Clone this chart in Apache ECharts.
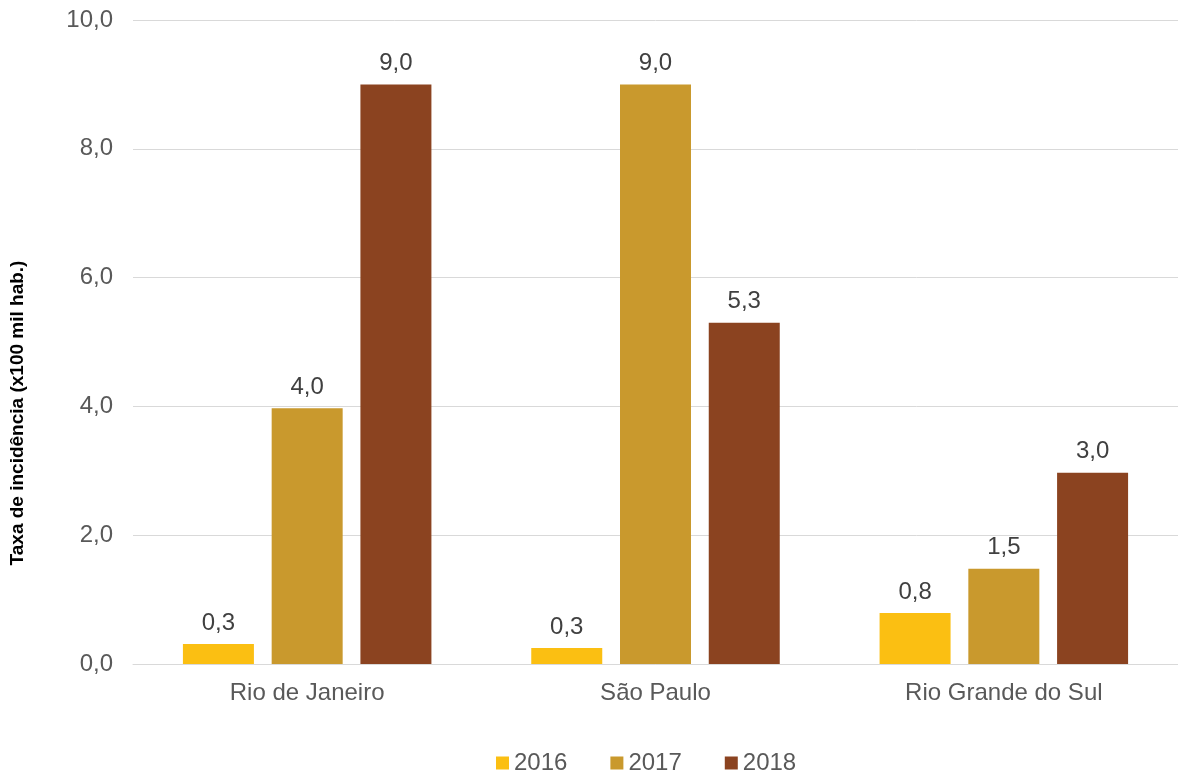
<!DOCTYPE html>
<html><head><meta charset="utf-8">
<script src="https://cdn.jsdelivr.net/npm/echarts@6/dist/echarts.min.js"></script>
<style>html,body{margin:0;padding:0;background:#fff}#c{width:1178px;height:775px}</style>
</head><body><div id="c"></div>
<script>
var categories = ['Rio de Janeiro', 'São Paulo', 'Rio Grande do Sul'];
var seriesNames = ['2016', '2017', '2018'];
var values2016 = [0.31, 0.25, 0.79];
var values2017 = [3.97, 9.0, 1.48];
var values2018 = [9.0, 5.3, 2.97];
var colors = ['#FBBF12', '#C9992D', '#8B4320'];
var yAxisName = 'Taxa de incidência (x100 mil hab.)';

function fmt(v){ return v.toFixed(1).replace('.', ','); }
var allValues = [values2016, values2017, values2018];
var chart = echarts.init(document.getElementById('c'));
chart.setOption({
  animation: false,
  textStyle: { fontFamily: 'Liberation Sans, Arial, sans-serif' },
  grid: { left: 130, right: -5, top: 20, bottom: 111, containLabel: false },
  legend: {
    top: 751, left: 496, padding: 0, itemWidth: 13, itemHeight: 13, itemGap: 43,
    icon: 'rect',
    textStyle: { fontSize: 24, color: '#595959' },
    data: seriesNames
  },
  xAxis: {
    type: 'category', data: categories,
    axisLine: { lineStyle: { color: '#D9D9D9', width: 1 } },
    axisTick: { show: false },
    axisLabel: { fontSize: 24, color: '#595959', margin: 17 }
  },
  yAxis: {
    type: 'value', min: 0, max: 10, interval: 2,
    name: yAxisName, nameLocation: 'middle', nameGap: 106, nameRotate: 90,
    nameTextStyle: { fontSize: 19, fontWeight: 'bold', color: '#000', padding: [0, 142, 0, 0] },
    axisLine: { show: false }, axisTick: { show: false },
    axisLabel: { fontSize: 24, color: '#595959', margin: 20, formatter: function(v){ return fmt(v); } },
    splitLine: { lineStyle: { color: '#D9D9D9', width: 1 } }
  },
  series: seriesNames.map(function(n, i){
    return {
      name: n, type: 'bar', data: allValues[i], barWidth: 71, barGap: '25%',
      itemStyle: { color: colors[i] },
      label: { show: true, position: 'top', distance: 9, fontSize: 24, color: '#404040',
        formatter: function(p){ return fmt(p.value); } }
    };
  })
});
</script></body></html>
